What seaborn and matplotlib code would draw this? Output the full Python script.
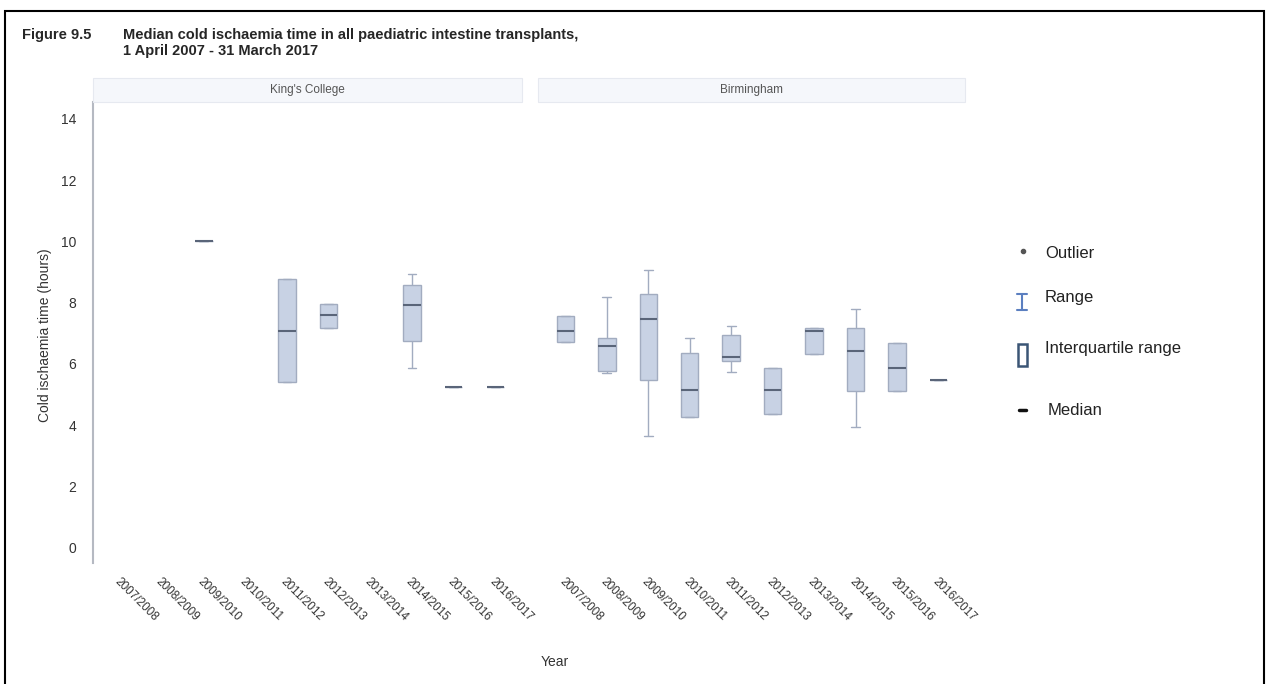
import matplotlib
matplotlib.use("Agg")
import matplotlib.pyplot as plt
import matplotlib.patches as patches
from matplotlib.lines import Line2D
import seaborn as sns
import pandas as pd

years = ["2007/2008", "2008/2009", "2009/2010", "2010/2011", "2011/2012",
         "2012/2013", "2013/2014", "2014/2015", "2015/2016", "2016/2017"]

# King's College (only years with transplants)
kings_years = ["2009/2010", "2011/2012", "2012/2013", "2014/2015", "2015/2016", "2016/2017"]
kings_min = [10.0, 5.40, 7.16, 5.88, 5.23, 5.23]
kings_q1 = [10.0, 5.40, 7.16, 6.76, 5.23, 5.23]
kings_med = [10.0, 7.06, 7.61, 7.91, 5.23, 5.23]
kings_q3 = [10.0, 8.76, 7.97, 8.56, 5.23, 5.23]
kings_max = [10.0, 8.76, 7.97, 8.95, 5.23, 5.23]

# Birmingham
bham_years = years
bham_min = [6.70, 5.69, 3.63, 4.28, 5.72, 4.38, 6.31, 3.95, 5.10, 5.46]
bham_q1 = [6.70, 5.78, 5.46, 4.28, 6.11, 4.38, 6.31, 5.13, 5.10, 5.46]
bham_med = [7.09, 6.60, 7.45, 5.16, 6.21, 5.16, 7.09, 6.41, 5.88, 5.46]
bham_q3 = [7.55, 6.83, 8.27, 6.37, 6.93, 5.88, 7.16, 7.16, 6.67, 5.46]
bham_max = [7.55, 8.20, 9.05, 6.86, 7.25, 5.88, 7.16, 7.78, 6.67, 5.46]


def to_long(yrs, mins, q1s, meds, q3s, maxs):
    # five points per year -> quartiles land exactly on q1/med/q3
    rows = []
    for i, y in enumerate(yrs):
        for v in (mins[i], q1s[i], meds[i], q3s[i], maxs[i]):
            rows.append({"year": y, "hours": v})
    return pd.DataFrame(rows)


kings_df = to_long(kings_years, kings_min, kings_q1, kings_med, kings_q3, kings_max)
bham_df = to_long(bham_years, bham_min, bham_q1, bham_med, bham_q3, bham_max)

sns.set_style("white")
plt.rcParams["font.family"] = ["Liberation Sans", "DejaVu Sans"]

fig = plt.figure(figsize=(12.7, 6.84), dpi=100)

W, H = 1270, 684
ax_bottom = 1 - 563 / H
ax_height = (563 - 102) / H
ax1 = fig.add_axes([93 / W, ax_bottom, (522 - 93) / W, ax_height])
ax2 = fig.add_axes([538 / W, ax_bottom, (965 - 538) / W, ax_height])

fill = "#c8d2e4"
edge = "#a2acc0"
box_kws = dict(x="year", y="hours", order=years, whis=(0, 100), width=0.42,
               color=fill, linecolor=edge, linewidth=1.0, saturation=1,
               medianprops=dict(color="#5a6579", linewidth=1.5),
               showfliers=False)

sns.boxplot(data=kings_df, ax=ax1, **box_kws)
sns.boxplot(data=bham_df, ax=ax2, **box_kws)

for ax, name in ((ax1, "King's College"), (ax2, "Birmingham")):
    ax.set_ylim(-0.5, 14.55)
    ax.set_xlim(-0.66, 9.64)
    ax.set_xlabel("")
    ax.set_ylabel("")
    for s in ax.spines.values():
        s.set_visible(False)
    ax.set_xticks(range(len(years)))
    ax.set_xticklabels(years, rotation=-45, ha="left", rotation_mode="anchor",
                       fontsize=8.5, color="#333333")
    ax.tick_params(axis="x", length=5, color="#dddddd", pad=4)
    # strip header
    pos = ax.get_position()
    fig.add_artist(patches.Rectangle((pos.x0, pos.y1), pos.width, 24 / H,
                                     transform=fig.transFigure,
                                     facecolor="#f5f7fb", edgecolor="#e6e9f0",
                                     linewidth=0.8))
    fig.text(pos.x0 + pos.width / 2, pos.y1 + 12 / H, name, ha="center",
             va="center", fontsize=8.5, color="#555555")

ax1.spines["left"].set_visible(True)
ax1.spines["left"].set_color("#b5b9c2")
ax1.spines["left"].set_linewidth(1.5)
ax1.set_yticks(range(0, 15, 2))
ax1.tick_params(axis="y", length=6, color="#b5b9c2", labelsize=10,
                labelcolor="#333333", pad=6)
ax2.set_yticks([])

fig.text(45 / W, 1 - 335 / H, "Cold ischaemia time (hours)", rotation=90,
         ha="center", va="center", fontsize=10, color="#333333")
fig.text(555 / W, 1 - 662 / H, "Year", ha="center", va="center",
         fontsize=10, color="#333333")

# titles
fig.text(22 / W, 1 - 35 / H, "Figure 9.5", fontsize=10.5, fontweight="bold",
         va="center")
fig.text(123 / W, 1 - 35 / H,
         "Median cold ischaemia time in all paediatric intestine transplants,",
         fontsize=10.5, fontweight="bold", va="center")
fig.text(123 / W, 1 - 51 / H, "1 April 2007 - 31 March 2017", fontsize=10.5,
         fontweight="bold", va="center")

# outer frame
fig.add_artist(patches.Rectangle((5 / W, -0.01), (1264 - 5) / W, 1 - 11 / H + 0.01,
                                 transform=fig.transFigure, fill=False,
                                 edgecolor="black", linewidth=1.5))

# key on the right
fig.add_artist(Line2D([1023 / W], [1 - 251 / H], marker="o", markersize=3,
                      color="#555555", transform=fig.transFigure))
fig.text(1045 / W, 1 - 253 / H, "Outlier", fontsize=12, va="center", color="#222222")

rx, ry = 1022 / W, 1 - 302 / H
fig.add_artist(Line2D([rx, rx], [ry - 8 / H, ry + 8 / H], color="#5b7fc0",
                      linewidth=1.5, transform=fig.transFigure))
for dy in (-8, 8):
    fig.add_artist(Line2D([rx - 5 / W, rx + 5 / W], [ry + dy / H, ry + dy / H],
                          color="#5b7fc0", linewidth=1.5, transform=fig.transFigure))
fig.text(1045 / W, 1 - 298 / H, "Range", fontsize=12, va="center", color="#222222")

fig.add_artist(patches.Rectangle((1018 / W, 1 - 366 / H), 9 / W, 22 / H,
                                 transform=fig.transFigure, fill=False,
                                 edgecolor="#3b5575", linewidth=1.8))
fig.text(1045 / W, 1 - 348 / H, "Interquartile range", fontsize=12, va="center",
         color="#222222")

fig.add_artist(Line2D([1019 / W, 1026 / W], [1 - 410 / H, 1 - 410 / H],
                      color="#111111", linewidth=2.5, transform=fig.transFigure))
fig.text(1048 / W, 1 - 410 / H, "Median", fontsize=12, va="center", color="#222222")

fig.savefig("out.png", dpi=100)
